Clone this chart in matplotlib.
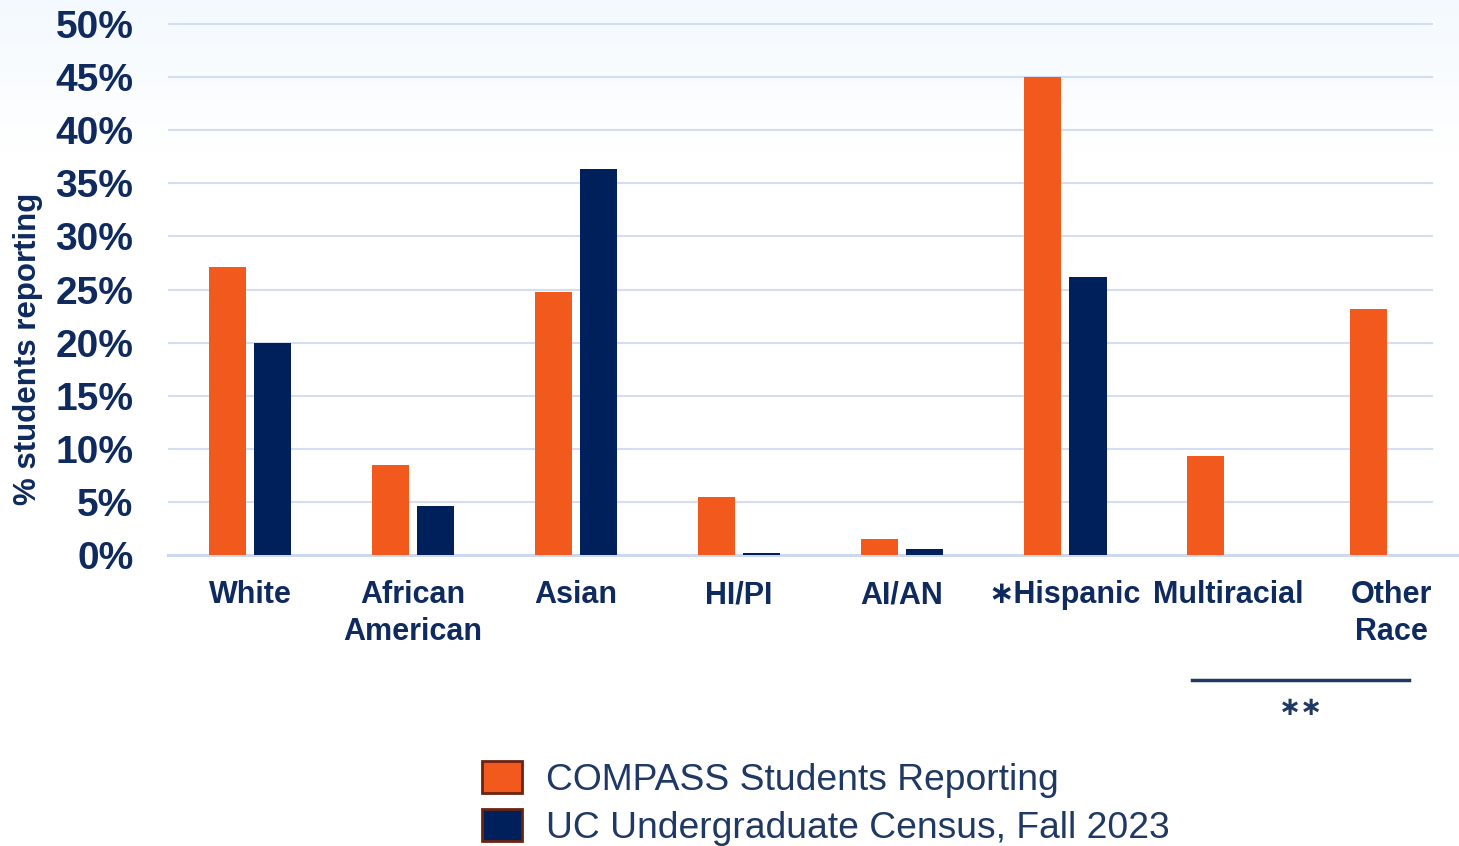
import matplotlib
matplotlib.use("Agg")
import matplotlib.pyplot as plt
import numpy as np
from matplotlib.patches import Patch
from matplotlib.transforms import blended_transform_factory

categories = ["White", "African\nAmerican", "Asian", "HI/PI", "AI/AN",
              "\u2217Hispanic", "Multiracial", "Other\nRace"]
compass = [27.1, 8.5, 24.8, 5.5, 1.5, 45.0, 9.3, 23.2]
census = [20.0, 4.6, 36.3, 0.2, 0.6, 26.2, 0, 0]
yticks = [0, 5, 10, 15, 20, 25, 30, 35, 40, 45, 50]
series_names = ["COMPASS Students Reporting", "UC Undergraduate Census, Fall 2023"]

orange = "#F25A1D"
navy = "#00205B"
textc = "#0E2A5E"
gridc = "#D3DEF2"

plt.rcParams['font.family'] = ['Liberation Sans', 'DejaVu Sans']

fig = plt.figure(figsize=(14.59, 8.46), dpi=100)

# light blue gradient at the top of the slide
bg = fig.add_axes([0, 0, 1, 1], zorder=-5)
grad = np.linspace(0, 1, 300).reshape(-1, 1)
grad = np.clip(grad / 0.18, 0, 1)
top = np.array([0.955, 0.978, 0.997])
img = top + (1 - top) * grad[..., None]
bg.imshow(img, aspect="auto", extent=[0, 1, 0, 1], origin="upper")
bg.axis("off")

ax = fig.add_axes([168/1459, 1 - 555/846, (1459-168)/1459, 531/846])
ax.set_facecolor("none")

x = np.arange(len(categories))
w = 0.227
off = 0.141
cen = [v if v > 0 else np.nan for v in census]
ax.bar(x - off, compass, w, color=orange, zorder=3)
ax.bar(x + off, cen, w, color=navy, zorder=3)

ax.set_ylim(0, 50)
ax.set_xlim(-0.503, 7.417)
ax.hlines(yticks[1:], -0.503, 7.26, colors=gridc, linewidth=1.5, zorder=1, clip_on=False)
for s in ["top", "right", "left"]:
    ax.spines[s].set_visible(False)
ax.spines["bottom"].set_color("#CBD8F0")
ax.spines["bottom"].set_linewidth(2.2)

ax.set_yticks(yticks)
ax.set_yticklabels([f"{t}%" for t in yticks], fontsize=28, fontweight="bold", color=textc)
ax.tick_params(axis="y", length=0, pad=25)
ax.set_xticks(x)
ax.set_xticklabels(categories, fontsize=22, fontweight="bold", color=textc, linespacing=1.3)
ax.tick_params(axis="x", length=0, pad=18)

fig.text(28/1459, 1 - 349/846, "% students reporting", rotation=90, ha="center", va="center",
         fontsize=22.5, fontweight="bold", color=textc)

# bracket under Multiracial / Other Race
tr = blended_transform_factory(ax.transData, ax.transAxes)
ax.plot([5.78, 7.11], [-0.235, -0.235], color="#1F3864", linewidth=2.5, transform=tr, clip_on=False)
ax.text(6.445, -0.288, "\u2217\u2217", transform=tr, ha="center", va="center", fontsize=19,
        color="#1F3864", fontweight="bold")

handles = [Patch(facecolor=orange, edgecolor="#6B2410", linewidth=2),
           Patch(facecolor=navy, edgecolor="#6B2410", linewidth=2)]
fig.legend(handles, series_names, loc="upper left", bbox_to_anchor=(482/1459, 1 - 761/846),
           frameon=False, fontsize=26.8, labelcolor="#1F3864", handlelength=1.07,
           handleheight=0.94, handletextpad=0.65, labelspacing=0.3, borderpad=0, borderaxespad=0)

fig.savefig("out.png", dpi=100)
